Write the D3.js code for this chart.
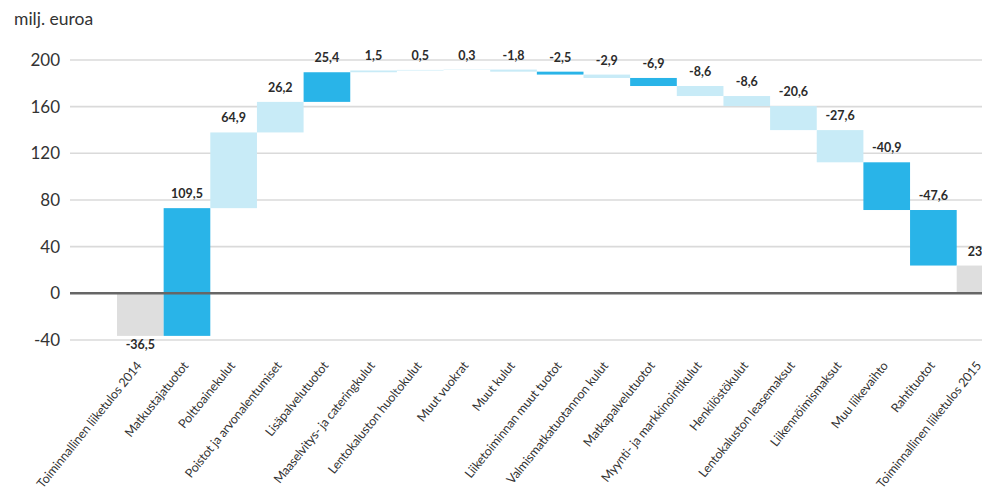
<!DOCTYPE html>
<html>
<head>
<meta charset="utf-8">
<script src="https://cdn.jsdelivr.net/npm/d3@7"></script>
<style>
  html, body { margin: 0; padding: 0; background: #fff; }
  svg { display: block; }
</style>
</head>
<body>
<svg id="chart" width="982" height="489"></svg>
<script>
// Tuloslaskelman siltakaavio: toiminnallinen liiketulos 2014 -> 2015 (milj. euroa)
const categories = [
  "Toiminnallinen liiketulos 2014",
  "Matkustajatuotot",
  "Polttoainekulut",
  "Poistot ja arvonalentumiset",
  "Lisäpalvelutuotot",
  "Maaselvitys- ja cateringkulut",
  "Lentokaluston huoltokulut",
  "Muut vuokrat",
  "Muut kulut",
  "Liiketoiminnan muut tuotot",
  "Valmismatkatuotannon kulut",
  "Matkapalvelutuotot",
  "Myynti- ja markkinointikulut",
  "Henkilöstökulut",
  "Lentokaluston leasemaksut",
  "Liikennöimismaksut",
  "Muu liikevaihto",
  "Rahtituotot",
  "Toiminnallinen liiketulos 2015"
];
// Muutos edelliseen vuoteen; ensimmäinen ja viimeinen ovat kokonaislukuja
const changes = [-36.5, 109.5, 64.9, 26.2, 25.4, 1.5, 0.5, 0.3, -1.8, -2.5, -2.9, -6.9, -8.6, -8.6, -20.6, -27.6, -40.9, -47.6, 23.8];
// Palkin tyyppi: total = liiketulos, revenue = tuotot, cost = kulut
const kinds = ["total", "revenue", "cost", "cost", "revenue", "cost", "cost", "cost", "cost", "revenue",
               "cost", "revenue", "cost", "cost", "cost", "cost", "revenue", "revenue", "total"];
const yTicks = [-40, 0, 40, 80, 120, 160, 200];
const unitLabel = "milj. euroa";

const colors = { total: "#dedede", revenue: "#29b4e8", cost: "#c8ebf7" };

// Kumulatiiviset alku- ja loppupisteet
const bars = [];
let running = 0;
categories.forEach((c, i) => {
  let start, end;
  if (kinds[i] === "total") { start = 0; end = changes[i]; }
  else { start = running; end = running + changes[i]; }
  running = end;
  bars.push({ cat: c, value: changes[i], kind: kinds[i], start, end });
});

const svg = d3.select("#chart");
const fmt = v => d3.format(".1f")(v).replace(".", ",").replace("−", "-");

const y = d3.scaleLinear().domain([0, 200]).range([293.3, 60]);
const x = d3.scaleBand().domain(categories).range([117, 117 + 19 * 46.65]).padding(0);
const gridX0 = 70, gridX1 = 982;

// Vaakasuorat apuviivat
svg.append("g").selectAll("line")
  .data(yTicks.filter(t => t !== 0))
  .join("line")
  .attr("x1", gridX0).attr("x2", gridX1)
  .attr("y1", d => y(d)).attr("y2", d => y(d))
  .attr("stroke", "#dadada").attr("stroke-width", 1.6);

// Y-akselin luvut
svg.append("g").selectAll("text")
  .data(yTicks)
  .join("text")
  .attr("x", 60).attr("y", d => y(d))
  .attr("dy", "0.36em")
  .attr("text-anchor", "end")
  .attr("font-family", "Lato, 'Open Sans', sans-serif")
  .attr("font-size", 17)
  .attr("fill", "#333")
  .text(d => d);

svg.append("text")
  .attr("x", 14).attr("y", 25)
  .attr("font-family", "Lato, 'Open Sans', sans-serif")
  .attr("font-size", 17.5)
  .attr("fill", "#333")
  .text(unitLabel);

// Palkit
svg.append("g").selectAll("rect")
  .data(bars)
  .join("rect")
  .attr("x", d => x(d.cat))
  .attr("width", x.bandwidth())
  .attr("y", d => y(Math.max(d.start, d.end)))
  .attr("height", d => Math.abs(y(d.start) - y(d.end)))
  .attr("fill", d => colors[d.kind]);

// Nollaviiva palkkien päällä
svg.append("line")
  .attr("x1", gridX0).attr("x2", gridX1)
  .attr("y1", y(0)).attr("y2", y(0))
  .attr("stroke", "#666").attr("stroke-width", 2.6);

// Arvotarrat
svg.append("g").selectAll("text")
  .data(bars)
  .join("text")
  .attr("x", d => x(d.cat) + x.bandwidth() / 2)
  .attr("y", d => d.kind === "total" && d.value < 0
    ? y(Math.min(d.start, d.end)) + 13
    : y(Math.max(d.start, d.end)) - 10)
  .attr("text-anchor", "middle")
  .attr("font-family", "Lato, 'Open Sans', sans-serif")
  .attr("font-weight", 700)
  .attr("font-size", 12.5)
  .attr("fill", "#2b2b2b")
  .text(d => fmt(d.value));

// Kategorianimet vinossa
svg.append("g").selectAll("text")
  .data(bars)
  .join("text")
  .attr("transform", d => `translate(${x(d.cat) + x.bandwidth() / 2 + 2},${366}) rotate(-51)`)
  .attr("text-anchor", "end")
  .attr("font-family", "Lato, 'Open Sans', sans-serif")
  .attr("font-size", 12.5)
  .attr("letter-spacing", -0.15)
  .attr("fill", "#333")
  .text(d => d.cat);
</script>
</body>
</html>
